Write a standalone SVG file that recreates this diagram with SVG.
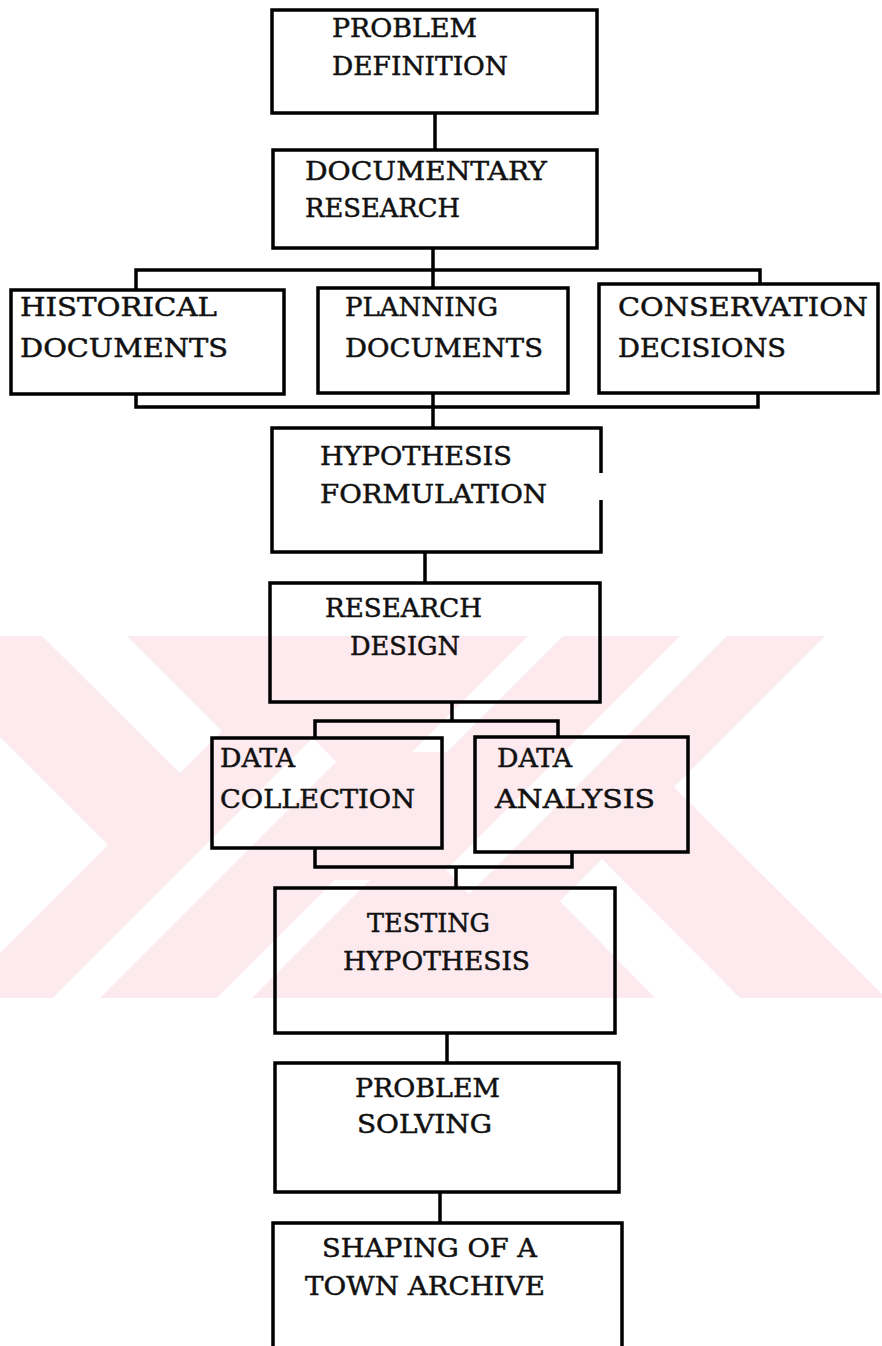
<svg xmlns="http://www.w3.org/2000/svg" width="882" height="1346" viewBox="0 0 882 1346">
<style>
.box{fill:none;stroke:#000;stroke-width:3.5;stroke-linejoin:miter}
.ln{fill:none;stroke:#000;stroke-width:3.5}
.t{font-family:"DejaVu Serif","Liberation Serif",serif;font-size:26px;fill:#111;stroke:#111;stroke-width:0.5}
.wm{fill:#fdeaee}
.wh{fill:#fff}
</style>
<defs>
<clipPath id="wmclip"><rect x="0" y="636" width="882" height="362"/></clipPath>
</defs>
<rect width="882" height="1346" fill="#fff"/>
<g id="watermark" clip-path="url(#wmclip)">
<rect class="wm" x="0" y="636" width="882" height="362"/>
<polygon class="wh" points="0,737 108,845 0,953"/>
<polygon class="wh" points="674,787 825,636 882,636 882,998 886,998"/>
<polygon class="wh" points="42,636 127,636 222,731 180,773"/>
<polygon class="wh" points="560,901 602,859 740,998 655,998"/>
<polygon class="wh" points="53,998 100,998 336,762 313,738"/>
<polygon class="wh" points="729,634 682,634 446,870 469,894"/>
<polygon class="wh" points="217,998 252,998 370,880 335,880"/>
<polygon class="wh" points="565,634 530,634 412,752 447,752"/>
</g>
<g id="connectors">
<path class="ln" d="M435,113 V150"/>
<path class="ln" d="M433,248 V288 M136,290 V270 H760 V284"/>
<path class="ln" d="M136,394 V407 H758 V393 M433,393 V428"/>
<path class="ln" d="M425,552 V583"/>
<path class="ln" d="M452,702 V721 M315,738 V721 H558 V737"/>
<path class="ln" d="M315,848 V867 H572 V852 M456,867 V888"/>
<path class="ln" d="M447,1033 V1063"/>
<path class="ln" d="M440,1192 V1223"/>
</g>
<g id="n1"><rect class="box" x="272" y="10" width="325" height="103"/>
<text class="t" x="332" y="37" textLength="145" lengthAdjust="spacingAndGlyphs">PROBLEM</text>
<text class="t" x="332" y="75" textLength="176" lengthAdjust="spacingAndGlyphs">DEFINITION</text></g>
<g id="n2"><rect class="box" x="273" y="150" width="324" height="98"/>
<text class="t" x="305" y="180" textLength="242" lengthAdjust="spacingAndGlyphs">DOCUMENTARY</text>
<text class="t" x="305" y="217" textLength="155" lengthAdjust="spacingAndGlyphs">RESEARCH</text></g>
<g id="n3"><rect class="box" x="11" y="290" width="273" height="104"/>
<text class="t" x="20" y="316" textLength="197" lengthAdjust="spacingAndGlyphs">HISTORICAL</text>
<text class="t" x="20" y="357" textLength="208" lengthAdjust="spacingAndGlyphs">DOCUMENTS</text></g>
<g id="n4"><rect class="box" x="318" y="288" width="250" height="105"/>
<text class="t" x="345" y="316" textLength="153" lengthAdjust="spacingAndGlyphs">PLANNING</text>
<text class="t" x="345" y="357" textLength="198" lengthAdjust="spacingAndGlyphs">DOCUMENTS</text></g>
<g id="n5"><rect class="box" x="599" y="284" width="279" height="109"/>
<text class="t" x="618" y="316" textLength="250" lengthAdjust="spacingAndGlyphs">CONSERVATION</text>
<text class="t" x="618" y="357" textLength="168" lengthAdjust="spacingAndGlyphs">DECISIONS</text></g>
<g id="n6"><path class="box" d="M601,473 V428 H272 V552 H601 V500"/>
<text class="t" x="320" y="465" textLength="192" lengthAdjust="spacingAndGlyphs">HYPOTHESIS</text>
<text class="t" x="320" y="503" textLength="227" lengthAdjust="spacingAndGlyphs">FORMULATION</text></g>
<g id="n7"><rect class="box" x="270" y="583" width="330" height="119"/>
<text class="t" x="325" y="617" textLength="157" lengthAdjust="spacingAndGlyphs">RESEARCH</text>
<text class="t" x="350" y="655" textLength="110" lengthAdjust="spacingAndGlyphs">DESIGN</text></g>
<g id="n8"><rect class="box" x="212" y="738" width="230" height="110"/>
<text class="t" x="220" y="767" textLength="75" lengthAdjust="spacingAndGlyphs">DATA</text>
<text class="t" x="220" y="808" textLength="195" lengthAdjust="spacingAndGlyphs">COLLECTION</text></g>
<g id="n9"><rect class="box" x="475" y="737" width="213" height="115"/>
<text class="t" x="497" y="767" textLength="75" lengthAdjust="spacingAndGlyphs">DATA</text>
<text class="t" x="495" y="808" textLength="160" lengthAdjust="spacingAndGlyphs">ANALYSIS</text></g>
<g id="n10"><rect class="box" x="275" y="888" width="340" height="145"/>
<text class="t" x="367" y="932" textLength="123" lengthAdjust="spacingAndGlyphs">TESTING</text>
<text class="t" x="343" y="970" textLength="187" lengthAdjust="spacingAndGlyphs">HYPOTHESIS</text></g>
<g id="n11"><rect class="box" x="275" y="1063" width="344" height="129"/>
<text class="t" x="355" y="1097" textLength="145" lengthAdjust="spacingAndGlyphs">PROBLEM</text>
<text class="t" x="357" y="1133" textLength="135" lengthAdjust="spacingAndGlyphs">SOLVING</text></g>
<g id="n12"><path class="box" d="M273,1350 V1223 H622 V1350"/>
<text class="t" x="322" y="1257" textLength="215" lengthAdjust="spacingAndGlyphs">SHAPING OF A</text>
<text class="t" x="305" y="1295" textLength="240" lengthAdjust="spacingAndGlyphs">TOWN ARCHIVE</text></g>
</svg>
